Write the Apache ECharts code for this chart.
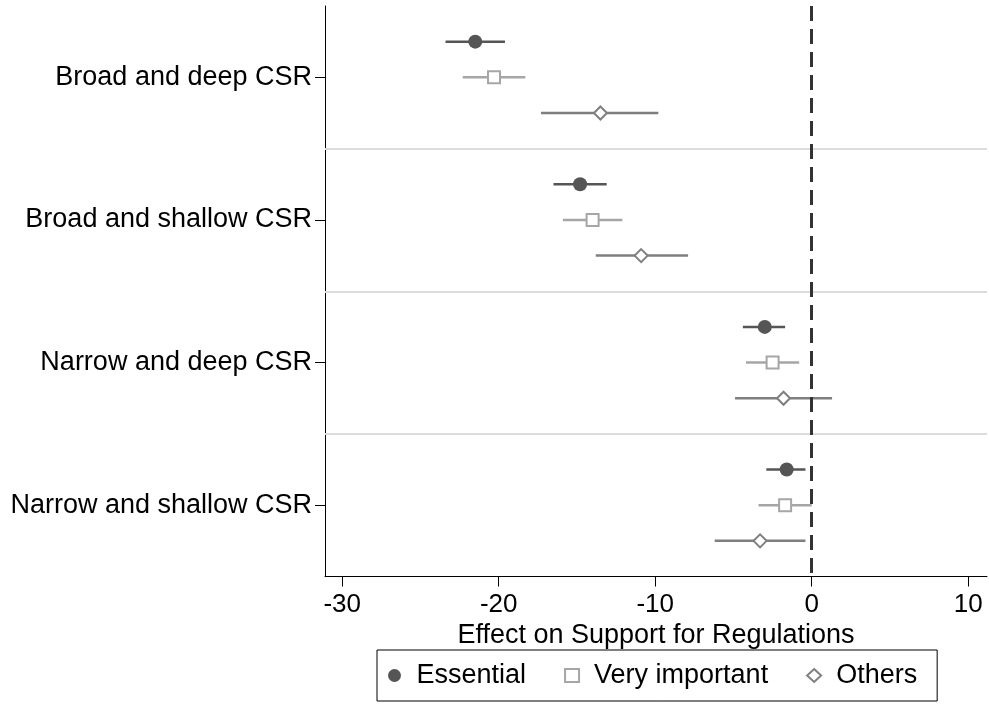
<!DOCTYPE html>
<html>
<head>
    <meta charset="utf-8" />
    <title>Effect on Support for Regulations</title>
    <style>
    html, body { margin: 0; padding: 0; background: #fff; }
    #chart { width: 989px; height: 712px; }
    </style>
    <script src="https://cdn.jsdelivr.net/npm/echarts@6/dist/echarts.min.js"></script>
</head>
<body>
    <div id="chart"></div>
    <script>
    // categories, top to bottom
    var categories = ['Broad and deep CSR', 'Broad and shallow CSR', 'Narrow and deep CSR', 'Narrow and shallow CSR'];
    var xTicks = [-30, -20, -10, 0, 10];

    // estimates and confidence intervals
    var essential = [-21.5, -14.8, -3.0, -1.6];
    var essentialLow = [-23.4, -16.5, -4.4, -2.9];
    var essentialHigh = [-19.6, -13.1, -1.7, -0.4];

    var veryImportant = [-20.3, -14.0, -2.5, -1.7];
    var veryImportantLow = [-22.3, -15.9, -4.2, -3.4];
    var veryImportantHigh = [-18.3, -12.1, -0.8, 0.0];

    var others = [-13.5, -10.9, -1.8, -3.3];
    var othersLow = [-17.3, -13.8, -4.9, -6.2];
    var othersHigh = [-9.8, -7.9, 1.3, -0.4];

    var font = 'Liberation Sans, Arial, sans-serif';

    // build [x, y] pairs, each group sits in band i..i+1
    function points(est, offset) {
        return est.map(function(v, i) { return [v, i + offset]; });
    }
    function bars(lo, hi, offset) {
        return lo.map(function(v, i) { return [v, hi[i], i + offset]; });
    }

    function errorBar(color) {
        return function(params, api) {
            var a = api.coord([api.value(0), api.value(2)]);
            var b = api.coord([api.value(1), api.value(2)]);
            return {
                type: 'line',
                shape: { x1: a[0], y1: a[1], x2: b[0], y2: b[1] },
                style: { stroke: color, lineWidth: 2.5 }
            };
        };
    }

    var option = {
        animation: false,
        backgroundColor: '#fff',
        grid: { left: 325, right: 2, top: 6, bottom: 135.5 },
        xAxis: {
            type: 'value',
            min: -31.1,
            max: 11.2,
            name: 'Effect on Support for Regulations',
            nameLocation: 'middle',
            nameGap: 44,
            nameTextStyle: { color: '#000', fontSize: 27, fontFamily: font },
            axisLine: { onZero: false, lineStyle: { color: '#000', width: 1 } },
            axisTick: { show: true, customValues: xTicks, length: 10, lineStyle: { color: '#000' } },
            axisLabel: { customValues: xTicks, color: '#000', fontSize: 26, fontFamily: font, margin: 15 },
            splitLine: { show: false }
        },
        yAxis: {
            type: 'value',
            min: 0,
            max: 4,
            inverse: true,
            axisLine: { show: true, onZero: false, lineStyle: { color: '#000', width: 1 } },
            axisTick: { show: true, customValues: [0.5, 1.5, 2.5, 3.5], length: 10, lineStyle: { color: '#000' } },
            axisLabel: {
                customValues: [0.5, 1.5, 2.5, 3.5],
                color: '#000', fontSize: 27, fontFamily: font, margin: 13,
                formatter: function(v) { return categories[Math.floor(v)]; }
            },
            splitLine: { show: false }
        },
        legend: {
            data: ['Essential', 'Very important', 'Others'],
            left: 377,
            top: 650,
            orient: 'horizontal',
            borderColor: '#000',
            borderWidth: 1,
            padding: [12, 20, 12, 11],
            itemGap: 38,
            itemWidth: 14,
            itemHeight: 13,
            textStyle: { color: '#000', fontSize: 27, fontFamily: font, padding: [0, 0, 0, 10] }
        },
        series: [
            {
                type: 'custom',
                renderItem: errorBar('#555'),
                data: bars(essentialLow, essentialHigh, 0.25),
                encode: { x: [0, 1], y: 2 },
                z: 1,
                markLine: {
                    silent: true,
                    symbol: 'none',
                    label: { show: false },
                    lineStyle: { color: '#dcdcdc', type: 'solid', width: 2 },
                    data: [{ yAxis: 1 }, { yAxis: 2 }, { yAxis: 3 }]
                }
            },
            {
                type: 'custom',
                renderItem: errorBar('#a6a6a6'),
                data: bars(veryImportantLow, veryImportantHigh, 0.5),
                encode: { x: [0, 1], y: 2 },
                z: 1
            },
            {
                type: 'custom',
                renderItem: errorBar('#7f7f7f'),
                data: bars(othersLow, othersHigh, 0.75),
                encode: { x: [0, 1], y: 2 },
                z: 1,
                markLine: {
                    silent: true,
                    symbol: 'none',
                    label: { show: false },
                    lineStyle: { color: '#333', type: [15, 8], width: 3 },
                    data: [{ xAxis: 0 }]
                }
            },
            {
                name: 'Essential',
                type: 'scatter',
                symbol: 'circle',
                symbolSize: 14,
                itemStyle: { color: '#555', opacity: 1 },
                data: points(essential, 0.25),
                z: 3
            },
            {
                name: 'Very important',
                type: 'scatter',
                symbol: 'rect',
                symbolSize: 12,
                itemStyle: { color: '#fff', borderColor: '#a6a6a6', borderWidth: 2, opacity: 1 },
                data: points(veryImportant, 0.5),
                z: 3
            },
            {
                name: 'Others',
                type: 'scatter',
                symbol: 'diamond',
                symbolSize: 13,
                itemStyle: { color: '#fff', borderColor: '#7f7f7f', borderWidth: 2, opacity: 1 },
                data: points(others, 0.75),
                z: 3
            }
        ]
    };

    var chart = echarts.init(document.getElementById('chart'));
    chart.setOption(option);
    </script>
</body>
</html>
